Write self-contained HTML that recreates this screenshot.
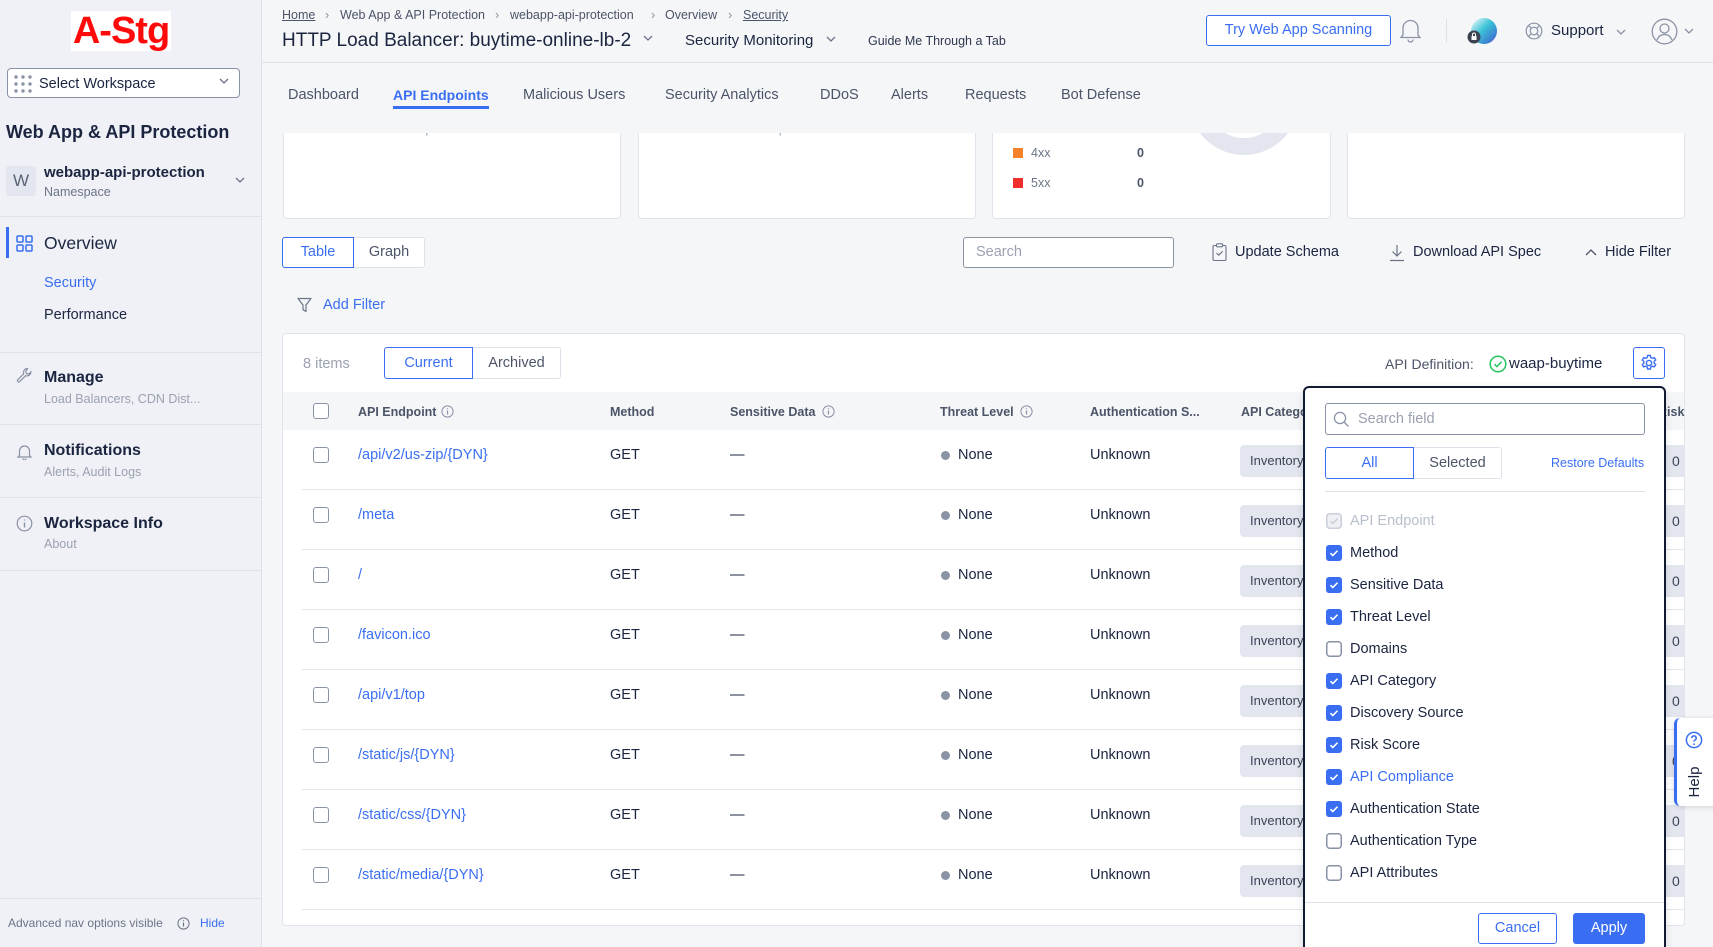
<!DOCTYPE html>
<html><head><meta charset="utf-8">
<style>
*{margin:0;padding:0;box-sizing:border-box}
html,body{width:1713px;height:947px;overflow:hidden}
body{background:#f5f6f8;font-family:"Liberation Sans",Arial,sans-serif;color:#1b2540;position:relative}
.a{position:absolute}
.t{position:absolute;white-space:nowrap;line-height:20px;height:20px}
.sb{position:absolute;left:0;top:0;width:262px;height:947px;background:#eff1f6;border-right:1px solid #dde1e9}
.hl{position:absolute;height:1px;background:#dde1e9}
.card{position:absolute;background:#fff;border:1px solid #e1e4ec;border-radius:4px}
.blue{color:#3a6ef2}
.gray{color:#6b7487}
.row{position:absolute;left:283px;width:1402px;height:60px}
.row .dv{position:absolute;left:19px;right:0;top:59px;height:1px;background:#e4e7ee}
.row .cb{position:absolute;left:30px;top:17px;width:16px;height:16px;border:1.5px solid #8a92a6;border-radius:3px;background:#fff}
.row .ep{position:absolute;left:75px;top:15px;line-height:20px;font-size:14.5px;color:#3a6ef2;white-space:nowrap}
.row .m{position:absolute;left:327px;top:15px;line-height:20px;font-size:14.5px;white-space:nowrap}
.row .d{position:absolute;left:447px;top:15px;line-height:20px;font-size:14.5px}
.row .dot{position:absolute;left:658px;top:20.5px;width:9px;height:9px;border-radius:50%;background:#8a92a6}
.row .n{position:absolute;left:675px;top:15px;line-height:20px;font-size:14.5px}
.row .u{position:absolute;left:807px;top:15px;line-height:20px;font-size:14.5px}
.row .p{position:absolute;left:957px;top:15px;width:120px;height:32px;border-radius:4px;background:#e3e6ef}
.row .pt{position:absolute;left:967px;top:21px;line-height:20px;font-size:13px;color:#3b4458}
.row .r{position:absolute;left:1383px;top:15px;width:19px;height:32px;background:#e3e6ef}
.row .rt{position:absolute;left:1389px;top:21px;line-height:20px;font-size:14px;color:#3b4458}
.th{position:absolute;top:402px;line-height:20px;font-size:12.5px;font-weight:bold;color:#4b5468;white-space:nowrap}
.pi{position:absolute;left:1350px;line-height:20px;font-size:14.5px;white-space:nowrap;color:#1b2540}
.ck{position:absolute;left:1326px;width:16px;height:16px}
.tab{position:absolute;top:85px;line-height:20px;font-size:14.5px;color:#4b5468;white-space:nowrap}
.bc{position:absolute;top:6px;line-height:18px;font-size:12.5px;color:#4b5468;white-space:nowrap}
</style></head><body>

<!-- Sidebar -->
<div class="sb"></div>
<div class="a" style="left:71px;top:11px;width:100px;height:40px;background:#fff;color:#ff0a0a;font-weight:bold;font-size:38px;line-height:40px;text-align:center;letter-spacing:-1px">A-Stg</div>
<div class="a" style="left:7px;top:68px;width:233px;height:30px;border:1px solid #8a92a6;border-radius:4px;background:#fff"></div>
<svg class="a" style="left:14px;top:75px" width="18" height="18"><g fill="#8a92a6"><circle cx="2" cy="2" r="1.7"/><circle cx="9" cy="2" r="1.7"/><circle cx="16" cy="2" r="1.7"/><circle cx="2" cy="9" r="1.7"/><circle cx="9" cy="9" r="1.7"/><circle cx="16" cy="9" r="1.7"/><circle cx="2" cy="16" r="1.7"/><circle cx="9" cy="16" r="1.7"/><circle cx="16" cy="16" r="1.7"/></g></svg>
<div class="t" style="left:39px;top:74px;font-size:14.5px">Select Workspace</div>
<svg class="a" style="left:219px;top:78px" width="10" height="7"><path d="M1 1l4 4 4-4" stroke="#6b7487" stroke-width="1.3" fill="none"/></svg>
<div class="t" style="left:6px;top:122px;font-size:18px;font-weight:bold">Web App &amp; API Protection</div>
<div class="a" style="left:6px;top:166px;width:30px;height:30px;background:#e3e6ee;border-radius:3px;color:#5b6478;font-size:17px;line-height:30px;text-align:center">W</div>
<div class="t" style="left:44px;top:163px;font-size:15px;font-weight:bold">webapp-api-protection</div>
<div class="t gray" style="left:44px;top:182px;font-size:12.5px">Namespace</div>
<svg class="a" style="left:235px;top:177px" width="10" height="7"><path d="M1 1l4 4 4-4" stroke="#6b7487" stroke-width="1.3" fill="none"/></svg>
<div class="hl" style="left:0;top:216px;width:261px"></div>
<div class="a" style="left:6px;top:227px;width:2.5px;height:31px;background:#3a6ef2"></div>
<svg class="a" style="left:16px;top:235px" width="17" height="17"><g fill="none" stroke="#3a6ef2" stroke-width="1.5"><rect x="1" y="1" width="6" height="6" rx="1"/><rect x="10" y="1" width="6" height="6" rx="1"/><rect x="1" y="10" width="6" height="6" rx="1"/><rect x="10" y="10" width="6" height="6" rx="1"/></g></svg>
<div class="t" style="left:44px;top:233px;font-size:17.5px">Overview</div>
<div class="t blue" style="left:44px;top:273px;font-size:14.5px">Security</div>
<div class="t" style="left:44px;top:305px;font-size:14.5px">Performance</div>
<div class="hl" style="left:0;top:352px;width:261px"></div>
<svg class="a" style="left:16px;top:367px" width="17" height="17"><path d="M11.5 1.5a4 4 0 0 0-3.8 5.3L1.8 12.7a1.3 1.3 0 0 0 1.9 1.9l5.9-5.9a4 4 0 0 0 5.3-3.8l-2.3 2.3-2.2-.6-.6-2.2z" fill="none" stroke="#8a92a6" stroke-width="1.2"/></svg>
<div class="t" style="left:44px;top:368px;font-size:16px;font-weight:bold">Manage</div>
<div class="t" style="left:44px;top:389px;font-size:12.5px;color:#9aa1b1">Load Balancers, CDN Dist...</div>
<div class="hl" style="left:0;top:424px;width:261px"></div>
<svg class="a" style="left:16px;top:443px" width="17" height="17"><path d="M3.5 12.5V8a5 5 0 0 1 10 0v4.5l1.5 1.5H2zM7 15.5a1.5 1.5 0 0 0 3 0" fill="none" stroke="#8a92a6" stroke-width="1.2"/></svg>
<div class="t" style="left:44px;top:441px;font-size:16px;font-weight:bold">Notifications</div>
<div class="t" style="left:44px;top:462px;font-size:12.5px;color:#9aa1b1">Alerts, Audit Logs</div>
<div class="hl" style="left:0;top:497px;width:261px"></div>
<svg class="a" style="left:16px;top:515px" width="17" height="17"><circle cx="8.5" cy="8.5" r="7.3" fill="none" stroke="#8a92a6" stroke-width="1.2"/><path d="M8.5 7.5v5M8.5 4.5v1" stroke="#8a92a6" stroke-width="1.4"/></svg>
<div class="t" style="left:44px;top:514px;font-size:16px;font-weight:bold">Workspace Info</div>
<div class="t" style="left:44px;top:534px;font-size:12.5px;color:#9aa1b1">About</div>
<div class="hl" style="left:0;top:570px;width:261px"></div>
<div class="hl" style="left:0;top:898px;width:261px"></div>
<div class="t gray" style="left:8px;top:913px;font-size:12px">Advanced nav options visible</div>
<svg class="a" style="left:177px;top:917px" width="13" height="13"><circle cx="6.5" cy="6.5" r="5.6" fill="none" stroke="#6b7487" stroke-width="1"/><path d="M6.5 5.5v4M6.5 3.3v1" stroke="#6b7487" stroke-width="1.2"/></svg>
<div class="t blue" style="left:200px;top:913px;font-size:12px">Hide</div>

<!-- Header -->
<div class="hl" style="left:262px;top:62px;width:1451px"></div>
<div class="bc" style="left:282px;text-decoration:underline">Home</div>
<div class="bc" style="left:325px;color:#8a92a6">›</div>
<div class="bc" style="left:340px">Web App &amp; API Protection</div>
<div class="bc" style="left:495px;color:#8a92a6">›</div>
<div class="bc" style="left:510px">webapp-api-protection</div>
<div class="bc" style="left:651px;color:#8a92a6">›</div>
<div class="bc" style="left:665px">Overview</div>
<div class="bc" style="left:728px;color:#8a92a6">›</div>
<div class="bc" style="left:743px;text-decoration:underline">Security</div>
<div class="t" style="left:282px;top:30px;font-size:19px;line-height:22px;height:22px">HTTP Load Balancer: buytime-online-lb-2</div>
<svg class="a" style="left:643px;top:35px" width="10" height="7"><path d="M1 1l4 4 4-4" stroke="#6b7487" stroke-width="1.3" fill="none"/></svg>
<div class="t" style="left:685px;top:31px;font-size:15px">Security Monitoring</div>
<svg class="a" style="left:826px;top:36px" width="10" height="7"><path d="M1 1l4 4 4-4" stroke="#6b7487" stroke-width="1.3" fill="none"/></svg>
<div class="t" style="left:868px;top:31px;font-size:12.5px;color:#2f3850">Guide Me Through a Tab</div>
<div class="a" style="left:1206px;top:15px;width:185px;height:31px;border:1px solid #3a6ef2;border-radius:3px;background:#fff;color:#3a6ef2;font-size:14.5px;line-height:29px;text-align:center">Try Web App Scanning</div>
<svg class="a" style="left:1399px;top:18px" width="23" height="25"><path d="M4 17V10a7.5 7.5 0 0 1 15 0v7l2 2.5H2zM9 21.5a2.5 2.5 0 0 0 5 0" fill="none" stroke="#8a92a6" stroke-width="1.3"/></svg>
<div class="a" style="left:1446px;top:19px;width:1px;height:24px;background:#dde1e9"></div>
<svg class="a" style="left:1464px;top:14px" width="36" height="34"><defs><linearGradient id="g1" x1="0" y1="0" x2="1" y2="1"><stop offset="0" stop-color="#ffffff"/><stop offset="0.45" stop-color="#3cc3d6"/><stop offset="0.8" stop-color="#3b7fd1"/><stop offset="1" stop-color="#c24fc6"/></linearGradient></defs><circle cx="20" cy="17" r="13" fill="url(#g1)"/><circle cx="10" cy="23" r="6.5" fill="#3b4252"/><rect x="7.5" y="22" width="5" height="4" fill="#fff"/><path d="M8.5 22v-1.5a1.5 1.5 0 0 1 3 0V22" stroke="#fff" fill="none"/></svg>
<svg class="a" style="left:1525px;top:22px" width="18" height="18"><circle cx="9" cy="9" r="7.8" fill="none" stroke="#8a92a6" stroke-width="1.2"/><circle cx="9" cy="9" r="3.8" fill="none" stroke="#8a92a6" stroke-width="1.2"/><path d="M3.5 3.5l2.8 2.8M14.5 3.5l-2.8 2.8M3.5 14.5l2.8-2.8M14.5 14.5l-2.8-2.8" stroke="#8a92a6" stroke-width="1.2"/></svg>
<div class="t" style="left:1551px;top:21px;font-size:15px">Support</div>
<svg class="a" style="left:1616px;top:29px" width="10" height="7"><path d="M1 1l4 4 4-4" stroke="#8a92a6" stroke-width="1.3" fill="none"/></svg>
<svg class="a" style="left:1651px;top:18px" width="27" height="27"><circle cx="13.5" cy="13.5" r="12.3" fill="none" stroke="#8a92a6" stroke-width="1.3"/><circle cx="13.5" cy="10.5" r="4.5" fill="none" stroke="#8a92a6" stroke-width="1.3"/><path d="M6 22c1.5-4 4-5.5 7.5-5.5S19.5 18 21 22" fill="none" stroke="#8a92a6" stroke-width="1.3"/></svg>
<svg class="a" style="left:1684px;top:28px" width="10" height="7"><path d="M1 1l4 4 4-4" stroke="#8a92a6" stroke-width="1.3" fill="none"/></svg>

<!-- Tabs -->
<div class="tab" style="left:288px">Dashboard</div>
<div class="tab" style="left:393px;color:#3a6ef2;font-weight:bold;font-size:14px">API Endpoints</div>
<div class="a" style="left:393px;top:106px;width:96px;height:3px;background:#3a6ef2"></div>
<div class="tab" style="left:523px">Malicious Users</div>
<div class="tab" style="left:665px">Security Analytics</div>
<div class="tab" style="left:820px">DDoS</div>
<div class="tab" style="left:891px">Alerts</div>
<div class="tab" style="left:965px">Requests</div>
<div class="tab" style="left:1061px">Bot Defense</div>

<!-- Top cards (clipped) -->
<div class="a" style="left:262px;top:133px;width:1451px;height:90px;overflow:hidden">
  <div class="card" style="left:21px;top:-40px;width:338px;height:126px"></div>
  <div class="card" style="left:376px;top:-40px;width:338px;height:126px"></div>
  <div class="card" style="left:730px;top:-40px;width:339px;height:126px"></div>
  <div class="card" style="left:1085px;top:-40px;width:338px;height:126px"></div>
  <div class="a" style="left:21px;top:-11px;width:338px;text-align:center;font-size:12px;line-height:14px;color:#9aa1b1">No Top Attacked APIs</div>
  <div class="a" style="left:376px;top:-11px;width:338px;text-align:center;font-size:12px;line-height:14px;color:#9aa1b1">No Top Sensitive Data</div>
  <div class="a" style="left:1085px;top:-11px;width:338px;text-align:center;font-size:12px;line-height:14px;color:#9aa1b1">No Most Active APIs</div>
  <svg class="a" style="left:926px;top:-90px" width="120" height="120"><circle cx="56" cy="57" r="46.5" fill="none" stroke="#e3e5ef" stroke-width="17"/></svg>
  <div class="a" style="left:751px;top:15px;width:10px;height:10px;background:#f5822a"></div>
  <div class="t gray" style="left:769px;top:10px;font-size:12.5px">4xx</div>
  <div class="t" style="left:875px;top:10px;font-size:12.5px;color:#4b5468;font-weight:bold">0</div>
  <div class="a" style="left:751px;top:45px;width:10px;height:10px;background:#f02e2e"></div>
  <div class="t gray" style="left:769px;top:40px;font-size:12.5px">5xx</div>
  <div class="t" style="left:875px;top:40px;font-size:12.5px;color:#4b5468;font-weight:bold">0</div>
</div>

<!-- Toolbar -->
<div class="a" style="left:282px;top:237px;width:72px;height:31px;border:1px solid #3a6ef2;border-radius:3px 0 0 3px;background:#fff;color:#3a6ef2;font-size:14.5px;line-height:29px;text-align:center;z-index:2">Table</div>
<div class="a" style="left:353px;top:237px;width:72px;height:31px;border:1px solid #dde1e9;border-radius:0 3px 3px 0;background:#fff;color:#4b5468;font-size:14.5px;line-height:29px;text-align:center">Graph</div>
<div class="a" style="left:963px;top:237px;width:211px;height:31px;border:1px solid #8a92a6;border-radius:3px;background:#fff"></div>
<div class="t" style="left:976px;top:242px;font-size:14.5px;color:#9aa1b1">Search</div>
<svg class="a" style="left:1212px;top:243px" width="15" height="18"><rect x="1" y="2.5" width="13" height="15" rx="1.5" fill="none" stroke="#6b7487" stroke-width="1.1"/><rect x="4.5" y="0.8" width="6" height="3" rx="1" fill="#fff" stroke="#6b7487" stroke-width="1.1"/><path d="M4.5 10l2.2 2.2 4-4" stroke="#6b7487" stroke-width="1.1" fill="none"/></svg>
<div class="t" style="left:1235px;top:242px;font-size:14.5px">Update Schema</div>
<svg class="a" style="left:1389px;top:244px" width="16" height="18"><path d="M8 1v11M3.5 7.5L8 12l4.5-4.5M1 16.5h14" stroke="#6b7487" stroke-width="1.2" fill="none"/></svg>
<div class="t" style="left:1413px;top:242px;font-size:14.5px">Download API Spec</div>
<svg class="a" style="left:1585px;top:248px" width="12" height="8"><path d="M1 7l5-5 5 5" stroke="#4b5468" stroke-width="1.3" fill="none"/></svg>
<div class="t" style="left:1605px;top:242px;font-size:14.5px">Hide Filter</div>
<svg class="a" style="left:297px;top:297px" width="15" height="17"><path d="M1 1.5h13L9 8v6.5l-3-1.8V8z" fill="none" stroke="#6b7487" stroke-width="1.2" stroke-linejoin="round"/></svg>
<div class="t blue" style="left:323px;top:295px;font-size:14.5px">Add Filter</div>

<!-- Table card -->
<div class="card" style="left:282px;top:333px;width:1403px;height:593px"></div>
<div class="t" style="left:303px;top:354px;font-size:14.5px;color:#9aa1b1">8 items</div>
<div class="a" style="left:384px;top:347px;width:89px;height:32px;border:1px solid #3a6ef2;border-radius:3px 0 0 3px;background:#fff;color:#3a6ef2;font-size:14.5px;line-height:30px;text-align:center;z-index:2">Current</div>
<div class="a" style="left:472px;top:347px;width:89px;height:32px;border:1px solid #dde1e9;border-radius:0 3px 3px 0;background:#fff;color:#4b5468;font-size:14.5px;line-height:30px;text-align:center">Archived</div>
<div class="t" style="left:1385px;top:354px;font-size:14px;color:#4b5468">API Definition:</div>
<svg class="a" style="left:1489px;top:355px" width="18" height="18"><circle cx="9" cy="9" r="7.8" fill="none" stroke="#22c55e" stroke-width="1.5"/><path d="M5.5 9.2l2.4 2.4 4.6-4.8" stroke="#22c55e" stroke-width="1.5" fill="none"/></svg>
<div class="t" style="left:1509px;top:354px;font-size:15px">waap-buytime</div>
<div class="a" style="left:1633px;top:347px;width:32px;height:32px;border:1px solid #3a6ef2;border-radius:3px;background:#fff"></div>
<svg class="a" style="left:1640px;top:354px" width="18" height="18"><g stroke="#3a6ef2" stroke-width="1.4" fill="none"><circle cx="9" cy="9" r="2.6"/><path d="M7.6 1.5h2.8l.4 2.1 1.5.8 2-.8 1.4 2.4-1.6 1.4v1.7l1.6 1.4-1.4 2.4-2-.8-1.5.8-.4 2.1H7.6l-.4-2.1-1.5-.8-2 .8-1.4-2.4 1.6-1.4V7.4L2.3 6l1.4-2.4 2 .8 1.5-.8z"/></g></svg>

<!-- table header -->
<div class="a" style="left:283px;top:392px;width:1401px;height:38px;background:#f5f6f8"></div>
<div class="a" style="left:313px;top:403px;width:16px;height:16px;border:1.5px solid #8a92a6;border-radius:3px;background:#fff"></div>
<div class="th" style="left:358px">API Endpoint</div>
<svg class="a" style="left:441px;top:405px" width="13" height="13"><circle cx="6.5" cy="6.5" r="5.6" fill="none" stroke="#8a92a6" stroke-width="1"/><path d="M6.5 5.5v4M6.5 3.3v1" stroke="#8a92a6" stroke-width="1.2"/></svg>
<div class="th" style="left:610px">Method</div>
<div class="th" style="left:730px">Sensitive Data</div>
<svg class="a" style="left:822px;top:405px" width="13" height="13"><circle cx="6.5" cy="6.5" r="5.6" fill="none" stroke="#8a92a6" stroke-width="1"/><path d="M6.5 5.5v4M6.5 3.3v1" stroke="#8a92a6" stroke-width="1.2"/></svg>
<div class="th" style="left:940px">Threat Level</div>
<svg class="a" style="left:1020px;top:405px" width="13" height="13"><circle cx="6.5" cy="6.5" r="5.6" fill="none" stroke="#8a92a6" stroke-width="1"/><path d="M6.5 5.5v4M6.5 3.3v1" stroke="#8a92a6" stroke-width="1.2"/></svg>
<div class="th" style="left:1090px">Authentication S...</div>
<div class="th" style="left:1241px">API Category</div>
<div class="th" style="left:1658px">Risk</div>

<!-- rows -->
<div class="row" style="top:430px"><div class="dv"></div><div class="cb"></div><div class="ep">/api/v2/us-zip/{DYN}</div><div class="m">GET</div><div class="d">—</div><div class="dot"></div><div class="n">None</div><div class="u">Unknown</div><div class="p"></div><div class="pt">Inventory</div><div class="r"></div><div class="rt">0</div></div>
<div class="row" style="top:490px"><div class="dv"></div><div class="cb"></div><div class="ep">/meta</div><div class="m">GET</div><div class="d">—</div><div class="dot"></div><div class="n">None</div><div class="u">Unknown</div><div class="p"></div><div class="pt">Inventory</div><div class="r"></div><div class="rt">0</div></div>
<div class="row" style="top:550px"><div class="dv"></div><div class="cb"></div><div class="ep">/</div><div class="m">GET</div><div class="d">—</div><div class="dot"></div><div class="n">None</div><div class="u">Unknown</div><div class="p"></div><div class="pt">Inventory</div><div class="r"></div><div class="rt">0</div></div>
<div class="row" style="top:610px"><div class="dv"></div><div class="cb"></div><div class="ep">/favicon.ico</div><div class="m">GET</div><div class="d">—</div><div class="dot"></div><div class="n">None</div><div class="u">Unknown</div><div class="p"></div><div class="pt">Inventory</div><div class="r"></div><div class="rt">0</div></div>
<div class="row" style="top:670px"><div class="dv"></div><div class="cb"></div><div class="ep">/api/v1/top</div><div class="m">GET</div><div class="d">—</div><div class="dot"></div><div class="n">None</div><div class="u">Unknown</div><div class="p"></div><div class="pt">Inventory</div><div class="r"></div><div class="rt">0</div></div>
<div class="row" style="top:730px"><div class="dv"></div><div class="cb"></div><div class="ep">/static/js/{DYN}</div><div class="m">GET</div><div class="d">—</div><div class="dot"></div><div class="n">None</div><div class="u">Unknown</div><div class="p"></div><div class="pt">Inventory</div><div class="r"></div><div class="rt">0</div></div>
<div class="row" style="top:790px"><div class="dv"></div><div class="cb"></div><div class="ep">/static/css/{DYN}</div><div class="m">GET</div><div class="d">—</div><div class="dot"></div><div class="n">None</div><div class="u">Unknown</div><div class="p"></div><div class="pt">Inventory</div><div class="r"></div><div class="rt">0</div></div>
<div class="row" style="top:850px"><div class="dv"></div><div class="cb"></div><div class="ep">/static/media/{DYN}</div><div class="m">GET</div><div class="d">—</div><div class="dot"></div><div class="n">None</div><div class="u">Unknown</div><div class="p"></div><div class="pt">Inventory</div><div class="r"></div><div class="rt">0</div></div>

<!-- Column settings panel -->
<div class="a" style="left:1303px;top:386px;width:363px;height:600px;background:#fff;border:2px solid #111a30;border-radius:6px 6px 0 0;box-shadow:0 2px 8px rgba(0,0,0,0.12)"></div>
<div class="a" style="left:1325px;top:403px;width:320px;height:32px;border:1px solid #8a92a6;border-radius:3px;background:#fff"></div>
<svg class="a" style="left:1333px;top:411px" width="17" height="17"><circle cx="7" cy="7" r="5.6" fill="none" stroke="#8a92a6" stroke-width="1.3"/><path d="M11 11l4.5 4.5" stroke="#8a92a6" stroke-width="1.3"/></svg>
<div class="t" style="left:1358px;top:409px;font-size:14.5px;color:#9aa1b1">Search field</div>
<div class="a" style="left:1325px;top:447px;width:89px;height:32px;border:1px solid #3a6ef2;border-radius:3px 0 0 3px;background:#fff;color:#3a6ef2;font-size:14.5px;line-height:30px;text-align:center;z-index:2">All</div>
<div class="a" style="left:1413px;top:447px;width:89px;height:32px;border:1px solid #dde1e9;border-radius:0 3px 3px 0;background:#fff;color:#4b5468;font-size:14.5px;line-height:30px;text-align:center">Selected</div>
<div class="t blue" style="left:1551px;top:453px;font-size:12.5px">Restore Defaults</div>
<div class="hl" style="left:1325px;top:491px;width:320px"></div>

<svg class="ck" style="top:513px" width="16" height="16"><rect x="0.75" y="0.75" width="14.5" height="14.5" rx="3" fill="#eef0f4" stroke="#c9ced8" stroke-width="1.5"/><path d="M4.5 8.2l2.3 2.3 4.7-4.8" stroke="#c9ced8" stroke-width="1.5" fill="none"/></svg>
<div class="pi" style="top:511px;color:#b8bfcc">API Endpoint</div>

<svg class="ck" style="top:545px" width="16" height="16"><rect width="16" height="16" rx="3" fill="#3a6ef2"/><path d="M4.5 8.2l2.3 2.3 4.7-4.8" stroke="#fff" stroke-width="1.6" fill="none"/></svg>
<div class="pi" style="top:543px">Method</div>
<svg class="ck" style="top:577px" width="16" height="16"><rect width="16" height="16" rx="3" fill="#3a6ef2"/><path d="M4.5 8.2l2.3 2.3 4.7-4.8" stroke="#fff" stroke-width="1.6" fill="none"/></svg>
<div class="pi" style="top:575px">Sensitive Data</div>
<svg class="ck" style="top:609px" width="16" height="16"><rect width="16" height="16" rx="3" fill="#3a6ef2"/><path d="M4.5 8.2l2.3 2.3 4.7-4.8" stroke="#fff" stroke-width="1.6" fill="none"/></svg>
<div class="pi" style="top:607px">Threat Level</div>
<svg class="ck" style="top:641px" width="16" height="16"><rect x="0.75" y="0.75" width="14.5" height="14.5" rx="3" fill="#fff" stroke="#8a92a6" stroke-width="1.5"/></svg>
<div class="pi" style="top:639px">Domains</div>
<svg class="ck" style="top:673px" width="16" height="16"><rect width="16" height="16" rx="3" fill="#3a6ef2"/><path d="M4.5 8.2l2.3 2.3 4.7-4.8" stroke="#fff" stroke-width="1.6" fill="none"/></svg>
<div class="pi" style="top:671px">API Category</div>
<svg class="ck" style="top:705px" width="16" height="16"><rect width="16" height="16" rx="3" fill="#3a6ef2"/><path d="M4.5 8.2l2.3 2.3 4.7-4.8" stroke="#fff" stroke-width="1.6" fill="none"/></svg>
<div class="pi" style="top:703px">Discovery Source</div>
<svg class="ck" style="top:737px" width="16" height="16"><rect width="16" height="16" rx="3" fill="#3a6ef2"/><path d="M4.5 8.2l2.3 2.3 4.7-4.8" stroke="#fff" stroke-width="1.6" fill="none"/></svg>
<div class="pi" style="top:735px">Risk Score</div>
<svg class="ck" style="top:769px" width="16" height="16"><rect width="16" height="16" rx="3" fill="#3a6ef2"/><path d="M4.5 8.2l2.3 2.3 4.7-4.8" stroke="#fff" stroke-width="1.6" fill="none"/></svg>
<div class="pi" style="top:767px;color:#3a6ef2">API Compliance</div>
<svg class="ck" style="top:801px" width="16" height="16"><rect width="16" height="16" rx="3" fill="#3a6ef2"/><path d="M4.5 8.2l2.3 2.3 4.7-4.8" stroke="#fff" stroke-width="1.6" fill="none"/></svg>
<div class="pi" style="top:799px">Authentication State</div>
<svg class="ck" style="top:833px" width="16" height="16"><rect x="0.75" y="0.75" width="14.5" height="14.5" rx="3" fill="#fff" stroke="#8a92a6" stroke-width="1.5"/></svg>
<div class="pi" style="top:831px">Authentication Type</div>
<svg class="ck" style="top:865px" width="16" height="16"><rect x="0.75" y="0.75" width="14.5" height="14.5" rx="3" fill="#fff" stroke="#8a92a6" stroke-width="1.5"/></svg>
<div class="pi" style="top:863px">API Attributes</div>

<div class="hl" style="left:1305px;top:902px;width:359px"></div>
<div class="a" style="left:1478px;top:913px;width:79px;height:31px;border:1px solid #3a6ef2;border-radius:3px;background:#fff;color:#3a6ef2;font-size:14.5px;line-height:29px;text-align:center">Cancel</div>
<div class="a" style="left:1573px;top:913px;width:72px;height:31px;border-radius:3px;background:#3a6ef2;color:#fff;font-size:14.5px;line-height:31px;text-align:center">Apply</div>

<!-- Help tab -->
<div class="a" style="left:1674px;top:718px;width:45px;height:88px;background:#fff;border-left:3px solid #3a6ef2;border-radius:6px 0 0 6px;box-shadow:0 1px 6px rgba(0,0,0,0.15)"></div>
<svg class="a" style="left:1685px;top:731px" width="18" height="18"><circle cx="9" cy="9" r="7.6" fill="none" stroke="#3a6ef2" stroke-width="1.5"/><path d="M6.8 7a2.2 2.2 0 1 1 3.2 2c-.7.4-1 .8-1 1.6" stroke="#3a6ef2" stroke-width="1.5" fill="none"/><circle cx="9" cy="13.2" r="0.9" fill="#3a6ef2"/></svg>
<div class="a" style="left:1674px;top:772px;width:40px;height:20px;line-height:20px;text-align:center;font-size:15px;color:#1b2540;transform:rotate(-90deg);transform-origin:20px 10px;left:1675px">Help</div>

</body></html>
